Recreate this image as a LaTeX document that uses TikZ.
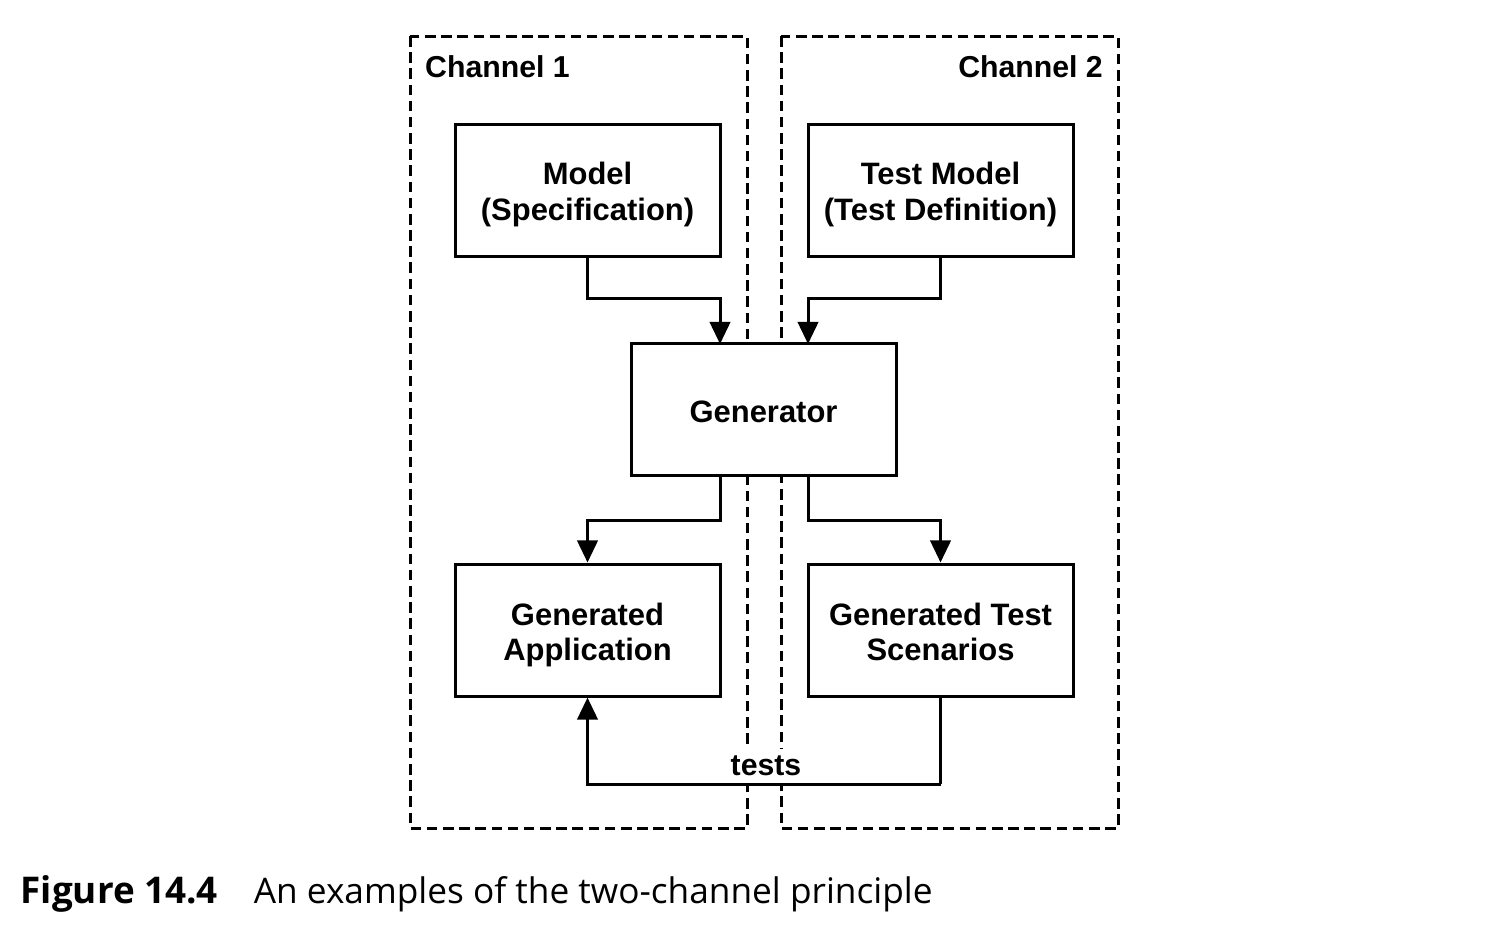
\documentclass[tikz,border=0pt]{standalone}
\usepackage{fontspec}
\setmainfont{Liberation Sans}
\newfontfamily\capfont{Open Sans}
\usetikzlibrary{arrows.meta}
\newcommand{\fl}{\rule[-0.28\baselineskip]{0pt}{1.28\baselineskip}}
\newcommand{\ls}{\rule[-0.28\baselineskip]{0pt}{\baselineskip}}
\begin{document}
\begin{tikzpicture}[x=0.01cm,y=-0.01cm,
  box/.style={draw,line width=0.85pt,minimum width=265*0.01cm,minimum height=132*0.01cm,align=center,font=\fontsize{8.8}{10.2}\selectfont\bfseries,inner sep=0pt},
  chan/.style={draw,line width=0.85pt,dash pattern=on 3pt off 1.6pt},
  conn/.style={line width=0.85pt,-{Triangle[length=6.3pt,width=5.8pt]}},
  lbl/.style={font=\fontsize{8.6}{10.2}\selectfont\bfseries,inner sep=1pt}]
\useasboundingbox (0,0) rectangle (1486,938);
\draw[chan] (410,36) rectangle (747,828);
\draw[chan] (781,36) rectangle (1118,828);
\node[lbl,anchor=west] (ch1) at (421,67) {Channel 1};
\node[lbl,anchor=east] (ch2) at (1107,67) {Channel 2};
\node[box,fill=white] (model) at (587.5,190) {\fl Model\\\ls(Specification)};
\node[box,fill=white] (tmodel) at (940.5,190) {\fl Test Model\\\ls(Test Definition)};
\node[box,fill=white] (gen) at (763.5,409.5) {\fl Generator};
\node[box,fill=white] (app) at (587.5,630) {\fl Generated\\\ls Application};
\node[box,fill=white] (scen) at (940.5,630) {\fl Generated Test\\\ls Scenarios};
\draw[conn] (model.south) |- (720,298) -- (720,344);
\draw[conn] (tmodel.south) |- (808,298) -- (808,344);
\draw[conn] (720,475) |- (587.5,520) -- (app.north);
\draw[conn] (808,475) |- (940.5,520) -- (scen.north);
\coordinate (tb) at (940.5,784);
\draw[line width=0.85pt] (scen.south) -- (tb);
\draw[conn] (tb) -| (app.south);
\node[lbl,fill=white,inner sep=2pt] (tests) at (766,766) {tests};
\node[anchor=base west,inner sep=0pt,font=\capfont] (cap) at (20,903) {{\fontsize{10.47}{12}\selectfont\bfseries Figure 14.4}\hspace{10.2pt}{\fontsize{10.02}{12}\selectfont An examples of the two-channel principle}};
\end{tikzpicture}
\end{document}
